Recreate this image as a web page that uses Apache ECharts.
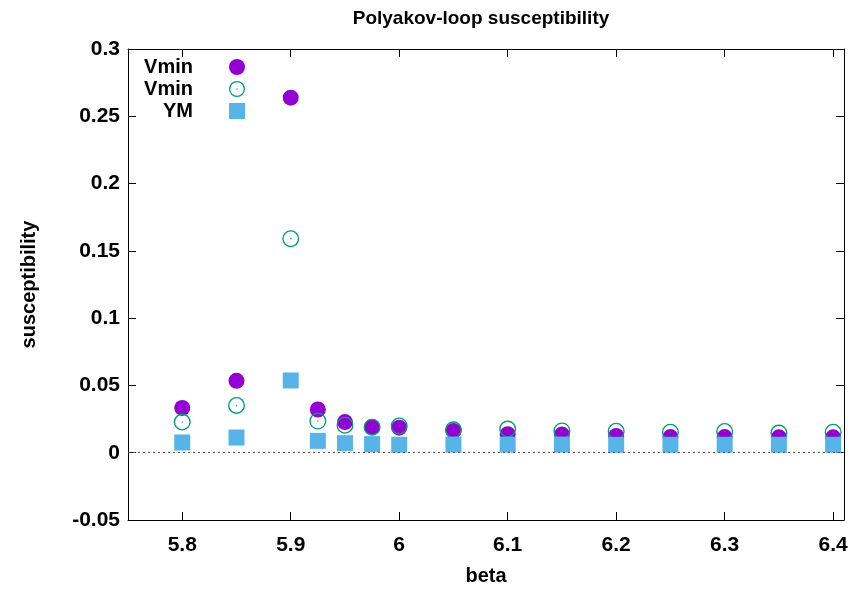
<!DOCTYPE html>
<html>
<head>
<meta charset="utf-8">
<title>Polyakov-loop susceptibility</title>
<script src="https://cdn.jsdelivr.net/npm/echarts@6/dist/echarts.min.js"></script>
<style>
  html, body { margin: 0; padding: 0; background: #ffffff; }
  #chart { width: 865px; height: 591px; }
</style>
</head>
<body>
<div id="chart"></div>
<script>
// beta values of the runs
const beta = [5.8, 5.85, 5.9, 5.925, 5.95, 5.975, 6.0, 6.05, 6.1, 6.15, 6.2, 6.25, 6.3, 6.35, 6.4];

// Polyakov-loop susceptibility per beta
const vminA = [0.0333, 0.0534, 0.2638, 0.0321, 0.0228, 0.0191, 0.0186, 0.0162, 0.0137, 0.0135, 0.0125, 0.0116, 0.0116, 0.0114, 0.0114];
const vminB = [0.0228, 0.0351, 0.1590, 0.0235, 0.0204, 0.0190, 0.0199, 0.0170, 0.0176, 0.0162, 0.0160, 0.0152, 0.0158, 0.0146, 0.0152];
const ym    = [0.0076, 0.0113, 0.0537, 0.0088, 0.0071, 0.0064, 0.0059, 0.0060, 0.0060, 0.0060, 0.0059, 0.0059, 0.0059, 0.0059, 0.0059];

// legend labels and axis ticks
const seriesNames = ['Vmin', 'Vmin', 'YM'];
const xTicks = [5.8, 5.9, 6.0, 6.1, 6.2, 6.3, 6.4];
const yTicks = [-0.05, 0, 0.05, 0.1, 0.15, 0.2, 0.25, 0.3];

const FONT = '"Liberation Sans", Arial, sans-serif';
const COLORS = ['#9400d3', '#009e73', '#56b4e9'];
const ids = ['vminA', 'vminB', 'ym'];

// open circle with a small centre dot
const ringPath = 'path://M50 0A50 50 0 1 1 50 100A50 50 0 1 1 50 0Z' +
  'M50 8A42 42 0 1 0 50 92A42 42 0 1 0 50 8Z' +
  'M50 46A4 4 0 1 1 50 54A4 4 0 1 1 50 46Z';
const symbols = ['circle', ringPath, 'rect'];

function pairs(ys) { return beta.map((b, i) => [b, ys[i]]); }
function fmtNum(v) { return String(parseFloat(v.toFixed(3))); }

const chart = echarts.init(document.getElementById('chart'), null, { renderer: 'canvas' });

// one legend block per entry so the labels line up on the right
function legendFor(i, top) {
  return {
    data: [{ name: ids[i], icon: symbols[i] }],
    right: 865 - 250,
    top: top,
    orient: 'vertical',
    align: 'right',
    itemWidth: 16,
    itemHeight: 16,
    selectedMode: false,
    formatter: () => seriesNames[i],
    textStyle: { fontFamily: FONT, fontSize: 20, fontWeight: 'bold', color: '#000',
      padding: [0, 31, 0, 0] }
  };
}

const axisLineStyle = { show: true, onZero: false, lineStyle: { color: '#000', width: 1 } };

chart.setOption({
  animation: false,
  backgroundColor: '#ffffff',
  title: {
    text: 'Polyakov-loop susceptibility',
    left: 476, top: 4, textAlign: 'center',
    textStyle: { fontFamily: FONT, fontSize: 19, fontWeight: 'bold', color: '#000' }
  },
  legend: [legendFor(0, 52), legendFor(1, 74), legendFor(2, 96)],
  grid: { left: 128, right: 21, top: 49, bottom: 66 },
  xAxis: [{
    type: 'value', min: 5.75, max: 6.41,
    name: 'beta', nameLocation: 'middle', nameGap: 46,
    nameTextStyle: { fontFamily: FONT, fontSize: 20, fontWeight: 'bold', color: '#000' },
    axisLine: axisLineStyle,
    axisTick: { show: true, inside: true, length: 8, customValues: xTicks, lineStyle: { color: '#000' } },
    axisLabel: { customValues: xTicks, margin: 15, formatter: fmtNum,
      fontFamily: FONT, fontSize: 21, fontWeight: 'bold', color: '#000' },
    splitLine: { show: false }
  }, {
    type: 'value', position: 'top', min: 5.75, max: 6.41,
    axisLine: axisLineStyle,
    axisTick: { show: true, inside: true, length: 8, customValues: xTicks, lineStyle: { color: '#000' } },
    axisLabel: { show: false },
    splitLine: { show: false }
  }],
  yAxis: [{
    type: 'value', min: -0.05, max: 0.3, interval: 0.05,
    name: 'susceptibility', nameLocation: 'middle', nameGap: 89, nameRotate: 90,
    nameTextStyle: { fontFamily: FONT, fontSize: 20, fontWeight: 'bold', color: '#000' },
    axisLine: axisLineStyle,
    axisTick: { show: true, inside: true, length: 8, customValues: yTicks, lineStyle: { color: '#000' } },
    axisLabel: { customValues: yTicks, margin: 8, formatter: fmtNum,
      fontFamily: FONT, fontSize: 21, fontWeight: 'bold', color: '#000' },
    splitLine: { show: false }
  }, {
    type: 'value', position: 'right', min: -0.05, max: 0.3, interval: 0.05,
    axisLine: axisLineStyle,
    axisTick: { show: true, inside: true, length: 8, customValues: yTicks, lineStyle: { color: '#000' } },
    axisLabel: { show: false },
    splitLine: { show: false }
  }],
  series: [{
    id: ids[0], name: ids[0], type: 'scatter', data: pairs(vminA),
    symbol: symbols[0], symbolSize: 16,
    itemStyle: { color: COLORS[0], opacity: 1 },
    markLine: {
      silent: true, symbol: 'none', label: { show: false },
      lineStyle: { color: '#555', type: [2, 3], width: 1 },
      data: [{ yAxis: 0 }]
    },
    z: 2
  }, {
    id: ids[1], name: ids[1], type: 'scatter', data: pairs(vminB),
    symbol: symbols[1], symbolSize: 17,
    itemStyle: { color: COLORS[1], opacity: 1 },
    z: 3
  }, {
    id: ids[2], name: ids[2], type: 'scatter', data: pairs(ym),
    symbol: symbols[2], symbolSize: 16,
    itemStyle: { color: COLORS[2], opacity: 1 },
    z: 4
  }]
});
</script>
</body>
</html>
